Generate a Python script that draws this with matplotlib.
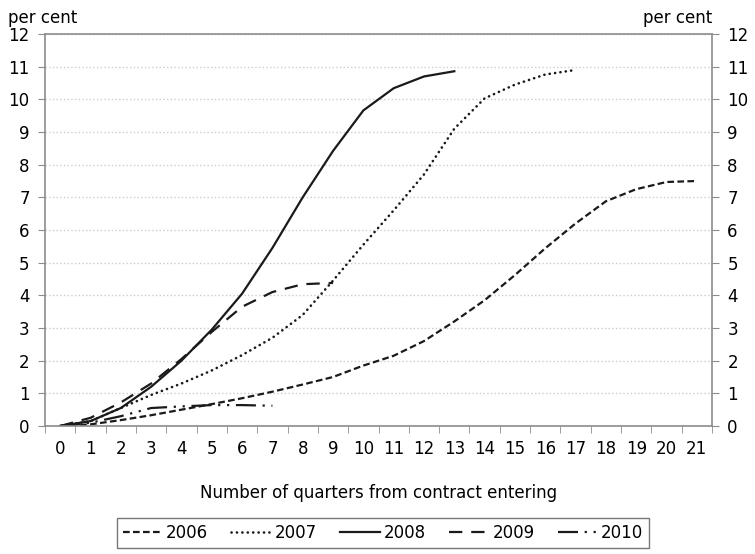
import matplotlib.pyplot as plt
import numpy as np

# ── DATA ─────────────────────────────────────────────────────────────────
quarters = list(range(22))

y2006 = [0, 0.05, 0.18, 0.33, 0.5, 0.67, 0.85, 1.05, 1.27, 1.5, 1.85, 2.15,
         2.6, 3.2, 3.85, 4.62, 5.44, 6.2, 6.88, 7.25, 7.47, 7.5]
y2007 = [0, 0.15, 0.55, 0.95, 1.3, 1.7, 2.17, 2.7, 3.4, 4.45, 5.55, 6.6,
         7.7, 9.1, 10.03, 10.45, 10.76, 10.9]
y2008 = [0, 0.15, 0.55, 1.2, 2.0, 2.95, 4.05, 5.45, 7.0, 8.42, 9.66, 10.34,
         10.7, 10.86]
y2009 = [0, 0.25, 0.72, 1.3, 2.05, 2.88, 3.65, 4.1, 4.34, 4.38]
y2010 = [0, 0.1, 0.3, 0.55, 0.6, 0.64, 0.64, 0.62]

series = [
    ('2006', y2006, (0, (3, 1.5))),
    ('2007', y2007, (0, (0.05, 2.0))),
    ('2008', y2008, '-'),
    ('2009', y2009, (0, (6, 4))),
    ('2010', y2010, (0, (9, 3, 1, 3, 1, 3))),
]

# ── PLOT ─────────────────────────────────────────────────────────────────
plt.rcParams['font.family'] = 'DejaVu Sans'
fig = plt.figure(figsize=(7.55, 5.54), dpi=100, facecolor='w')
ax = fig.add_axes([45/755, 1-426/554, (712-45)/755, (426-34)/554])

spine_c = '#8c8c8c'
for name, vals, ls in series:
    ax.plot(quarters[:len(vals)], vals, color='#1a1a1a',
            linewidth=1.9 if name == '2007' else 1.6,
            linestyle=ls, label=name,
            dash_capstyle='round' if name == '2007' else 'butt')

ax.set_xlim(-0.5, 21.5)
ax.set_ylim(0, 12)
ax.set_yticks(range(13))
ax.set_xticks(quarters)
ax.set_xticks(np.arange(-0.5, 22, 1), minor=True)
ax.tick_params(axis='x', which='major', length=0, labelsize=12, pad=10)
ax.tick_params(axis='x', which='minor', length=5, color=spine_c, direction='out')
ax.tick_params(axis='y', which='major', length=5, color=spine_c, labelsize=12,
               left=True, right=True, labelleft=True, labelright=True, pad=6)
ax.grid(True, axis='y', linestyle=':', color='#cccccc', linewidth=1)
ax.set_axisbelow(True)
for s in ax.spines.values():
    s.set_color(spine_c)
    s.set_linewidth(1.2)

ax.set_xlabel('Number of quarters from contract entering', fontsize=12, labelpad=19)
fig.text(8/755, 1-18/554, 'per cent', fontsize=12, ha='left', va='center')
fig.text(712/755, 1-18/554, 'per cent', fontsize=12, ha='right', va='center')

leg = fig.legend(loc='center', bbox_to_anchor=(383/755, 1-533/554), ncol=5,
                 fontsize=12, frameon=True, fancybox=False, handlelength=2.4,
                 handletextpad=0.2, columnspacing=1.4, borderpad=0.35)
leg.get_frame().set_edgecolor('#555555')
leg.get_frame().set_linewidth(1.0)

fig.savefig('out.png', dpi=100)
